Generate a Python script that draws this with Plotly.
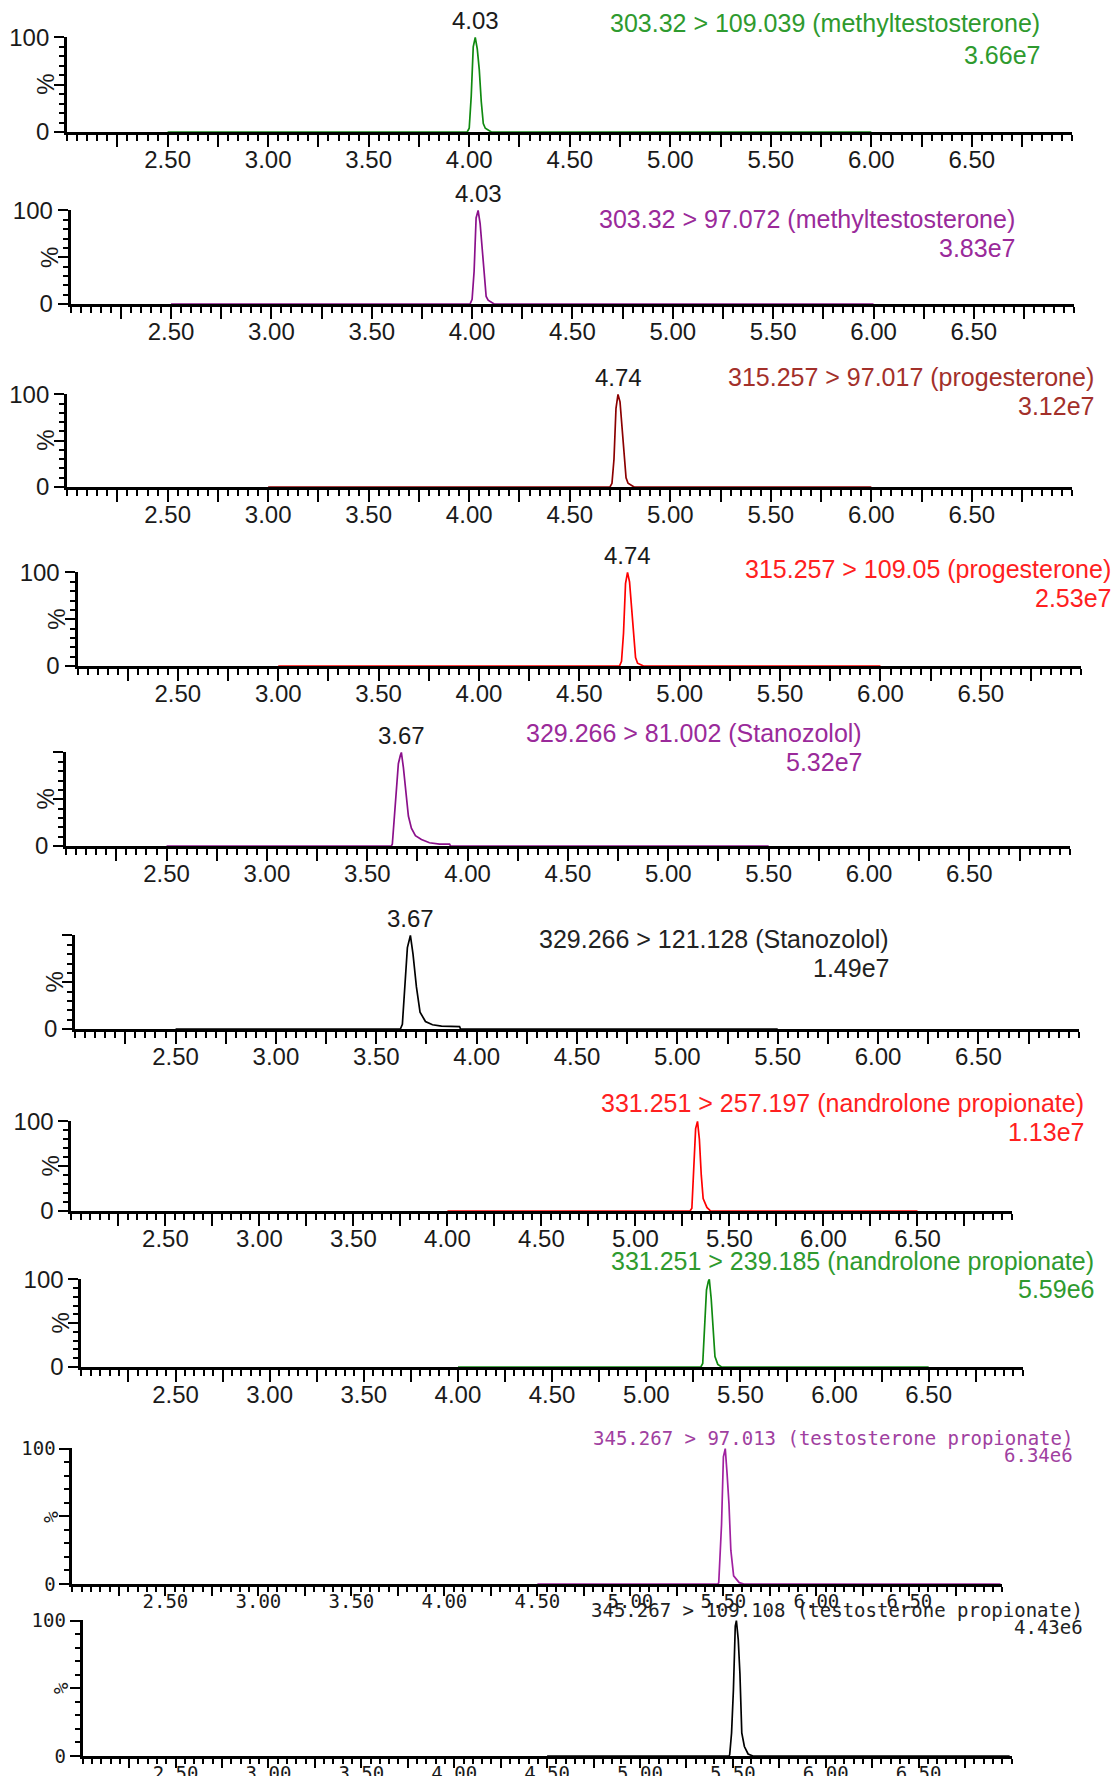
import plotly.graph_objects as go

W, H = 1118, 1776

# ---------------- data ----------------
x_tick_vals = [2.25, 2.50, 2.75, 3.00, 3.25, 3.50, 3.75, 4.00, 4.25, 4.50,
               4.75, 5.00, 5.25, 5.50, 5.75, 6.00, 6.25, 6.50, 6.75]
x_tick_text = ["", "2.50", "", "3.00", "", "3.50", "", "4.00", "", "4.50",
               "", "5.00", "", "5.50", "", "6.00", "", "6.50", ""]
y_tick_vals = [0, 50, 100]

titles = [
    "303.32 > 109.039 (methyltestosterone)",
    "303.32 > 97.072 (methyltestosterone)",
    "315.257 > 97.017 (progesterone)",
    "315.257 > 109.05 (progesterone)",
    "329.266 > 81.002 (Stanozolol)",
    "329.266 > 121.128 (Stanozolol)",
    "331.251 > 257.197 (nandrolone propionate)",
    "331.251 > 239.185 (nandrolone propionate)",
    "345.267 > 97.013 (testosterone propionate)",
    "345.267 > 109.108 (testosterone propionate)",
]
scales = ["3.66e7", "3.83e7", "3.12e7", "2.53e7", "5.32e7",
          "1.49e7", "1.13e7", "5.59e6", "6.34e6", "4.43e6"]
peak_labels = ["4.03", "4.03", "4.74", "4.74", "3.67", "3.67", None, None, None, None]
peak_rt = [4.03, 4.03, 4.74, 4.74, 3.67, 3.67, 5.33, 5.335, 5.51, 5.519]

mt109_t = [2.50, 3.99, 4.00, 4.01, 4.02, 4.025, 4.03, 4.04, 4.05, 4.06, 4.07, 4.08, 4.10, 4.11, 6.00]
mt109_i = [0, 0, 4, 38, 90, 96, 100, 88, 66, 32, 9, 4, 1.5, 0, 0]

mt97_t = [2.50, 3.99, 4.00, 4.01, 4.02, 4.03, 4.04, 4.05, 4.06, 4.07, 4.08, 4.10, 4.11, 6.00]
mt97_i = [0, 0, 5, 35, 92, 100, 86, 62, 30, 8, 4, 1.5, 0, 0]

pg97_t = [3.00, 4.70, 4.71, 4.72, 4.73, 4.74, 4.75, 4.76, 4.77, 4.78, 4.79, 4.81, 4.82, 6.00]
pg97_i = [0, 0, 4, 30, 85, 100, 92, 65, 30, 10, 4, 1.5, 0, 0]

pg109_t = [3.00, 4.70, 4.71, 4.72, 4.73, 4.74, 4.75, 4.76, 4.77, 4.78, 4.79, 4.81, 4.82, 6.00]
pg109_i = [0, 0, 5, 35, 88, 100, 90, 60, 28, 9, 3, 1, 0, 0]

st81_t = [2.50, 3.62, 3.625, 3.635, 3.645, 3.655, 3.665, 3.67, 3.68, 3.695, 3.705,
          3.72, 3.74, 3.77, 3.81, 3.86, 3.91, 3.915, 5.50]
st81_i = [0, 0, 2, 30, 60, 88, 97, 100, 84, 53, 32, 19, 11, 7, 3.5, 2, 2, 0, 0]

st121_t = [2.50, 3.62, 3.63, 3.64, 3.655, 3.67, 3.683, 3.70, 3.718, 3.745, 3.78,
           3.825, 3.915, 3.92, 5.50]
st121_i = [0, 0, 5, 34, 87, 100, 80, 45, 18, 8, 4.5, 3, 2.5, 0, 0]

np257_t = [4.00, 5.29, 5.30, 5.31, 5.32, 5.33, 5.34, 5.35, 5.36, 5.38, 5.40, 6.50]
np257_i = [0, 0, 3, 55, 92, 100, 80, 40, 14, 4, 0, 0]

np239_t = [4.00, 5.29, 5.30, 5.31, 5.32, 5.33, 5.335, 5.345, 5.355, 5.365, 5.38, 5.40, 6.50]
np239_i = [0, 0, 4, 45, 88, 98, 100, 78, 40, 12, 3, 0, 0]

tp97_t = [4.50, 5.47, 5.475, 5.49, 5.50, 5.51, 5.52, 5.53, 5.54, 5.555, 5.585, 5.61, 6.99]
tp97_i = [0, 0, 1, 44, 94, 100, 81, 59, 25, 6, 1, 0, 0]

tp109_t = [4.50, 5.48, 5.483, 5.493, 5.503, 5.513, 5.519, 5.529, 5.538, 5.548,
           5.562, 5.582, 5.608, 6.99]
tp109_i = [0, 0, 1, 17, 49, 96, 100, 86, 61, 17, 7, 1.5, 0, 0]

series_t = [mt109_t, mt97_t, pg97_t, pg109_t, st81_t, st121_t, np257_t, np239_t, tp97_t, tp109_t]
series_i = [mt109_i, mt97_i, pg97_i, pg109_i, st81_i, st121_i, np257_i, np239_i, tp97_i, tp109_i]

# ---------------- styling / layout ----------------
line_colors = ["#108a10", "#8b108b", "#8b0000", "#ff0000", "#8b108b",
               "#000000", "#ff0000", "#108a10", "#a020a0", "#000000"]
text_colors = ["#2e9a2e", "#9a2a9a", "#a3302a", "#ff2020", "#9a2a9a",
               "#222222", "#ff2020", "#2e9a2e", "#a040a0", "#222222"]
show_100 = [True, True, True, True, False, False, True, True, True, True]

# (left px, right px, top px, bottom px, title right px, title y px, scale y px)
geom = [
    (67.1, 1072.4, 37, 132, 1042, 23, 55),
    (70.7, 1074.2, 210, 304, 1017, 219, 248),
    (67.1, 1072.4, 394, 487, 1096, 377, 406),
    (77.5, 1081.2, 572, 666, 1113, 569, 598),
    (66.2, 1069.7, 752, 846, 864, 733, 762),
    (75.2, 1078.8, 935, 1029, 891, 939, 968),
    (71.4, 1011.5, 1121, 1211, 1086, 1103, 1132),
    (81.4, 1022.8, 1279, 1367, 1096, 1261, 1289),
    (72.4, 1002.4, 1448, 1584, 1075, 1438, 1455),
    (82.7, 1011.5, 1620, 1756, 1085, 1610, 1627),
]

SANS = "Liberation Sans, Arial, sans-serif"
MONO = "DejaVu Sans Mono, monospace"


def fx(px):
    return px / W


def fy(py):
    return 1 - py / H


fig = go.Figure()
annotations = []
layout_axes = {}

for k in range(10):
    n = k + 1
    xa = "x" if n == 1 else f"x{n}"
    ya = "y" if n == 1 else f"y{n}"
    xkey = "xaxis" if n == 1 else f"xaxis{n}"
    ykey = "yaxis" if n == 1 else f"yaxis{n}"
    xl, xr, top, bot, tr, ty, sy = geom[k]
    small = n >= 9
    fam = MONO if small else SANS
    fsz = 19 if small else 24
    tfsz = 19 if small else 25
    xtl = 9 if small else 12
    xmtl = 5 if small else 6
    xstand = -11 if small else -8

    fig.add_trace(go.Scatter(
        x=series_t[k], y=series_i[k], mode="lines",
        line=dict(color=line_colors[k], width=1.7),
        xaxis=xa, yaxis=ya, showlegend=False, hoverinfo="skip"))

    layout_axes[xkey] = dict(
        domain=[fx(xl), fx(xr)], anchor=ya, range=[2.0, 7.0],
        automargin=False,
        showline=True, linecolor="black", linewidth=3,
        ticks="outside", ticklen=xtl, tickwidth=2, tickcolor="black",
        ticklabelstandoff=xstand,
        tickmode="array", tickvals=x_tick_vals, ticktext=x_tick_text,
        tickfont=dict(family=fam, size=fsz, color="#1a1a1a"),
        showgrid=False, zeroline=False, layer="below traces",
        minor=dict(dtick=0.05, tick0=2.0, ticks="outside", ticklen=xmtl,
                   tickwidth=1.5, tickcolor="black", showgrid=False),
    )
    layout_axes[ykey] = dict(
        domain=[fy(bot), fy(top)], anchor=xa, range=[0, 100.5],
        automargin=False,
        showline=True, linecolor="black", linewidth=3,
        ticks="outside", ticklen=10, tickwidth=2, tickcolor="black",
        tickmode="array", tickvals=y_tick_vals,
        ticktext=["0", "", "100" if show_100[k] else ""],
        tickfont=dict(family=fam, size=fsz, color="#1a1a1a"),
        showgrid=False, zeroline=False, layer="below traces",
        minor=dict(dtick=10, tick0=0, ticks="outside", ticklen=5,
                   tickwidth=1.5, tickcolor="black", showgrid=False),
    )

    # "%" label on y axis
    annotations.append(dict(
        text="%", textangle=-90, xref="paper", yref=ya,
        x=fx(xl - 21), y=50, xanchor="center", yanchor="middle",
        showarrow=False, font=dict(family=fam, size=fsz, color="#1a1a1a")))

    # channel title + scale
    annotations.append(dict(
        text=titles[k], xref="paper", yref="paper", x=fx(tr), y=fy(ty),
        xanchor="right", yanchor="middle", showarrow=False,
        font=dict(family=fam, size=tfsz, color=text_colors[k])))
    annotations.append(dict(
        text=scales[k], xref="paper", yref="paper", x=fx(tr), y=fy(sy),
        xanchor="right", yanchor="middle", showarrow=False,
        font=dict(family=fam, size=tfsz, color=text_colors[k])))

    if peak_labels[k]:
        annotations.append(dict(
            text=peak_labels[k], xref=xa, yref=ya, x=peak_rt[k], y=100,
            xanchor="center", yanchor="bottom", yshift=1, showarrow=False,
            font=dict(family=SANS, size=24, color="#1a1a1a")))

fig.update_layout(
    width=W, height=H,
    margin=dict(l=0, r=0, t=0, b=0, pad=0, autoexpand=False),
    paper_bgcolor="white", plot_bgcolor="white",
    showlegend=False,
    annotations=annotations,
    **layout_axes,
)

fig.write_html(
    "out.html",
    config={"displayModeBar": False},
    post_script="document.body.style.margin='0';document.body.style.padding='0';",
)
